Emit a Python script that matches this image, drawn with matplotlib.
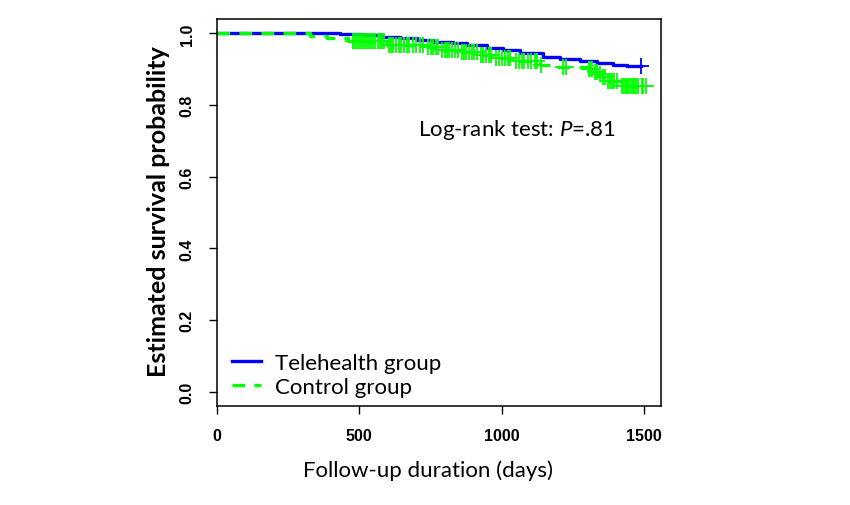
import matplotlib
matplotlib.use("Agg")
import matplotlib.pyplot as plt

# Kaplan-Meier step curves (days, survival)
tele_time = [0, 432, 514, 578, 643, 701, 760, 830, 877, 947, 1006, 1064, 1146, 1205, 1275, 1334, 1392, 1439]
tele_surv = [1.0, 0.997, 0.994, 0.990, 0.986, 0.982, 0.977, 0.972, 0.967, 0.960, 0.953, 0.946, 0.934, 0.929, 0.924, 0.918, 0.913, 0.908]
tele_end = 1488
tele_censor = [1488]

ctrl_time = [0, 327, 386, 459, 596, 737, 784, 853, 920, 975, 1041, 1135, 1187, 1304, 1322, 1339, 1351, 1369, 1416]
ctrl_surv = [1.0, 0.993, 0.986, 0.979, 0.967, 0.962, 0.953, 0.947, 0.939, 0.931, 0.922, 0.911, 0.906, 0.901, 0.893, 0.886, 0.878, 0.868, 0.854]
ctrl_end = 1512
ctrl_censor = [478, 486, 492, 500, 506, 512, 520, 528, 534, 540, 548, 556, 564, 572, 580, 588,
               604, 612, 620, 630, 640, 648, 656, 666, 676, 690, 700, 712, 724, 742, 752, 760,
               770, 778, 790, 800, 808, 816, 826, 836, 846, 860, 868, 876, 886, 896, 904, 912,
               928, 936, 946, 956, 964, 982, 992, 1000, 1012, 1022, 1030, 1050, 1060, 1070, 1080,
               1092, 1104, 1116, 1126, 1140, 1215, 1226, 1306, 1312, 1318, 1328, 1334, 1344, 1356,
               1362, 1374, 1380, 1388, 1396, 1404, 1422, 1430, 1436, 1442, 1448, 1454, 1460,
               1466, 1472, 1478, 1492, 1498, 1508]

x_ticks = [0, 500, 1000, 1500]
y_ticks = [0.0, 0.2, 0.4, 0.6, 0.8, 1.0]
legend_labels = ["Telehealth group", "Control group"]

plt.rcParams["mathtext.fontset"] = "custom"
plt.rcParams["mathtext.it"] = "Lato:italic"
plt.rcParams["mathtext.rm"] = "Lato"


def surv_at(times, survs, t):
    s = survs[0]
    for tt, ss in zip(times, survs):
        if tt <= t:
            s = ss
    return s


fig = plt.figure(figsize=(8.5, 5.06), dpi=100)
ax = fig.add_axes([217 / 850, 1 - 407 / 506, 444 / 850, 387 / 506])

blue = "#0000FF"
green = "#00FF00"

ax.step(tele_time + [tele_end], tele_surv + [tele_surv[-1]], where="post",
        color=blue, lw=2.4, label=legend_labels[0])
ax.plot(tele_censor, [surv_at(tele_time, tele_surv, t) for t in tele_censor],
        ls="none", marker="+", ms=11, mew=1.3, color=blue)

ax.step(ctrl_time + [ctrl_end], ctrl_surv + [ctrl_surv[-1]], where="post",
        color=green, lw=2.4, dashes=(3.8, 2.8), label=legend_labels[1])
ax.plot(ctrl_censor, [surv_at(ctrl_time, ctrl_surv, t) for t in ctrl_censor],
        ls="none", marker="+", ms=11, mew=1.3, color=green)

ax.set_xlim(0, 1560)
ax.set_ylim(-0.04, 1.04)
ax.set_xticks(x_ticks)
ax.set_yticks(y_ticks)
ax.set_xticklabels([str(v) for v in x_ticks], fontfamily="Liberation Sans",
                   fontweight="bold", fontsize=11.5)
ax.set_yticklabels([f"{v:.1f}" for v in y_ticks], fontfamily="Liberation Sans",
                   fontweight="bold", fontsize=11.5, rotation=90, va="center")
ax.tick_params(direction="out", length=6, width=1, pad=10)
for sp in ax.spines.values():
    sp.set_linewidth(1.1)

ax.set_xlabel("Follow-up duration (days)", fontfamily="Lato", fontsize=16)
ax.set_ylabel("Estimated survival probability", fontfamily="Lato",
              fontweight="bold", fontsize=18)
ax.xaxis.set_label_coords(0.475, -0.137)
ax.yaxis.set_label_coords(-0.106, 0.504)

ax.text(0.453, 0.716, "Log-rank test: $P$=.81", transform=ax.transAxes,
        fontfamily="Lato", fontsize=16, va="center", ha="left")

ax.legend(loc="lower left", frameon=False, prop={"family": "Lato", "size": 16},
          handlelength=1.3, handletextpad=0.65, borderaxespad=0.0,
          labelspacing=0.2, bbox_to_anchor=(0.014, 0.0))

fig.savefig("out.png", dpi=100)
